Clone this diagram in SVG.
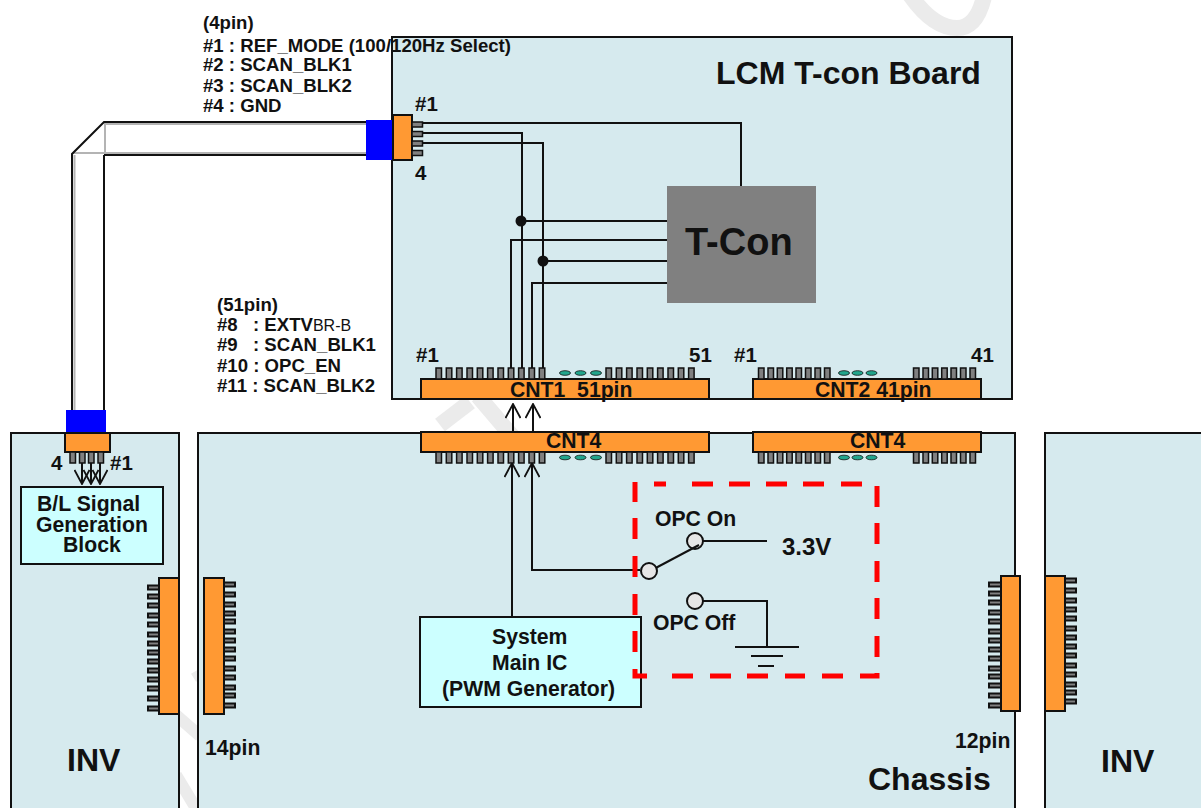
<svg xmlns="http://www.w3.org/2000/svg" width="1201" height="808" viewBox="0 0 1201 808">
<defs>
<style>
text{font-family:"Liberation Sans",Arial,sans-serif;font-weight:700;fill:#111}
.board{fill:#d6eaee;stroke:#111;stroke-width:2}
.org{fill:#ff9933;stroke:#111;stroke-width:2}
.pin{fill:#808080;stroke:#111;stroke-width:1.5}
.sp{fill:#808080;stroke:#111;stroke-width:2}
.oval{fill:#22a58c;stroke:#111;stroke-width:.8}
.w{fill:none;stroke:#111;stroke-width:2}
.g{fill:none;stroke:#b4b4b4;stroke-width:2}
.sw{fill:#e6e6e6;stroke:#111;stroke-width:2}
.blue{fill:#0000ff}
.cy{fill:#ccffff;stroke:#111;stroke-width:2}
.n{font-size:18.6px}.m{font-size:21.2px}.p{font-size:20.5px}.b{font-size:32px}
</style>
<marker id="open" viewBox="0 0 16 16" refX="15" refY="8" markerWidth="16" markerHeight="16" markerUnits="userSpaceOnUse" orient="auto"><path d="M1 0.5L15 8L1 15.5" fill="none" stroke="#111" stroke-width="1.8"/></marker>
<path id="tp" d="M0 0h5.500v11h-5.500z" class="pin"/>
</defs>
<g id="watermark" fill="none" stroke="#ebebeb" stroke-width="16">
<path d="M908 -8Q932 28 957 28Q978 28 985 -8"/>
<path d="M440 425L470 402"/><path d="M478 396L512 436"/>
<path d="M176 715L200 736M176 775L200 815" stroke-width="12"/>
<path d="M194 672L199 680" stroke-width="7"/>
</g>
<g id="board-lcm"><rect class="board" x="392" y="37" width="620" height="362"/><text class="b" x="716" y="84">LCM T-con Board</text></g>
<g id="board-inv-left"><path class="board" d="M11 810V433H179V810"/><text class="b" x="67" y="771">INV</text></g>
<g id="board-chassis"><path class="board" d="M198 810V433H1015V810"/><text class="b" x="868" y="790">Chassis</text></g>
<g id="board-inv-right"><path class="board" d="M1045 810V433H1203V810"/><text class="b" x="1101" y="772">INV</text></g>
<g id="cable">
<path class="g" d="M105 124H366M73 153H366M105 123V153M74.500 155V410"/>
<path class="w" d="M366 122H104L72 154V410M104 155V410M104 155H366"/>
</g>
<g id="tcon"><rect x="667" y="186" width="149" height="117" fill="#808080"/><text x="685" y="255" style="font-size:38px">T-Con</text></g>
<g id="connectors">
<path class="w" d="M423 123H741V186M423 133H522V368M423 143H543V368"/>
<path class="w" d="M521 221H667M511 368V240H667M543 261H667M532 368V283H667"/>
<circle cx="521" cy="221" r="5.500" fill="#111"/><circle cx="543" cy="261" r="5.500" fill="#111"/>
<path class="w" d="M513 432V404" marker-end="url(#open)"/><path class="w" d="M533 432V404" marker-end="url(#open)"/>
<path class="w" d="M512 617V463" marker-end="url(#open)"/><path class="w" d="M640 570H532V463" marker-end="url(#open)"/>
<path class="w" d="M82 463V484" marker-end="url(#open)"/><path class="w" d="M91 463V484" marker-end="url(#open)"/><path class="w" d="M100 463V484" marker-end="url(#open)"/>
<path class="w" d="M695 541H767M703 601H767V647"/>
<path class="w" d="M735 647H799M751 656H783M758 666H774"/>
</g>
<g id="conn-4pin">
<rect class="blue" x="366" y="120" width="26" height="40"/>
<rect class="org" x="393" y="115" width="19" height="45"/>
<rect class="pin" x="412" y="122" width="10.500" height="5"/><rect class="pin" x="412" y="131.500" width="10.500" height="5"/><rect class="pin" x="412" y="141" width="10.500" height="5"/><rect class="pin" x="412" y="150.500" width="10.500" height="5"/>
<text class="p" x="415" y="111">#1</text><text class="p" x="415" y="180">4</text>
</g>
<g id="cnt1">
<rect class="org" x="421" y="379" width="288" height="20"/>
<g id="cnt1-pins">
<use href="#tp" x="436" y="368"/><use href="#tp" x="446.300" y="368"/><use href="#tp" x="456.600" y="368"/><use href="#tp" x="467" y="368"/><use href="#tp" x="477.300" y="368"/><use href="#tp" x="487.600" y="368"/><use href="#tp" x="498" y="368"/><use href="#tp" x="508.300" y="368"/><use href="#tp" x="518.600" y="368"/><use href="#tp" x="529" y="368"/><use href="#tp" x="539.300" y="368"/>
<use href="#tp" x="606" y="368"/><use href="#tp" x="616.300" y="368"/><use href="#tp" x="626.600" y="368"/><use href="#tp" x="637" y="368"/><use href="#tp" x="647.300" y="368"/><use href="#tp" x="657.600" y="368"/><use href="#tp" x="668" y="368"/><use href="#tp" x="678.300" y="368"/><use href="#tp" x="688.600" y="368"/>
</g>
<ellipse class="oval" cx="565" cy="373" rx="5.500" ry="2.300"/><ellipse class="oval" cx="580.500" cy="373" rx="5.500" ry="2.300"/><ellipse class="oval" cx="596" cy="373" rx="5.500" ry="2.300"/>
<text class="m" x="510" y="397">CNT1&#160; 51pin</text>
<text class="p" x="416" y="362">#1</text><text class="p" x="689" y="362">51</text>
</g>
<g id="cnt2">
<rect class="org" x="753" y="379" width="228" height="20"/>
<use href="#tp" x="758.500" y="368"/><use href="#tp" x="768" y="368"/><use href="#tp" x="777.300" y="368"/><use href="#tp" x="786.700" y="368"/><use href="#tp" x="796" y="368"/><use href="#tp" x="805.500" y="368"/><use href="#tp" x="815" y="368"/><use href="#tp" x="824.500" y="368"/>
<use href="#tp" x="913.500" y="368"/><use href="#tp" x="923" y="368"/><use href="#tp" x="932.300" y="368"/><use href="#tp" x="941.700" y="368"/><use href="#tp" x="951" y="368"/><use href="#tp" x="960.500" y="368"/><use href="#tp" x="970" y="368"/>
<ellipse class="oval" cx="844" cy="373" rx="5.500" ry="2.300"/><ellipse class="oval" cx="857.500" cy="373" rx="5.500" ry="2.300"/><ellipse class="oval" cx="871.500" cy="373" rx="5.500" ry="2.300"/>
<text class="m" x="815" y="397">CNT2 41pin</text>
<text class="p" x="734" y="362">#1</text><text class="p" x="971" y="362">41</text>
</g>
<g id="cnt4-a">
<rect class="org" x="421" y="432" width="288" height="20"/>
<use href="#tp" x="436" y="452"/><use href="#tp" x="446.300" y="452"/><use href="#tp" x="456.600" y="452"/><use href="#tp" x="467" y="452"/><use href="#tp" x="477.300" y="452"/><use href="#tp" x="487.600" y="452"/><use href="#tp" x="498" y="452"/><use href="#tp" x="508.300" y="452"/><use href="#tp" x="518.600" y="452"/><use href="#tp" x="529" y="452"/><use href="#tp" x="539.300" y="452"/>
<use href="#tp" x="606" y="452"/><use href="#tp" x="616.300" y="452"/><use href="#tp" x="626.600" y="452"/><use href="#tp" x="637" y="452"/><use href="#tp" x="647.300" y="452"/><use href="#tp" x="657.600" y="452"/><use href="#tp" x="668" y="452"/><use href="#tp" x="678.300" y="452"/><use href="#tp" x="688.600" y="452"/>
<ellipse class="oval" cx="565" cy="457.500" rx="5.500" ry="2.300"/><ellipse class="oval" cx="580.500" cy="457.500" rx="5.500" ry="2.300"/><ellipse class="oval" cx="596" cy="457.500" rx="5.500" ry="2.300"/>
<text class="m" x="546" y="448">CNT4</text>
</g>
<g id="cnt4-b">
<rect class="org" x="753" y="432" width="228" height="20"/>
<use href="#tp" x="758.500" y="452"/><use href="#tp" x="768" y="452"/><use href="#tp" x="777.300" y="452"/><use href="#tp" x="786.700" y="452"/><use href="#tp" x="796" y="452"/><use href="#tp" x="805.500" y="452"/><use href="#tp" x="815" y="452"/><use href="#tp" x="824.500" y="452"/>
<use href="#tp" x="913.500" y="452"/><use href="#tp" x="923" y="452"/><use href="#tp" x="932.300" y="452"/><use href="#tp" x="941.700" y="452"/><use href="#tp" x="951" y="452"/><use href="#tp" x="960.500" y="452"/><use href="#tp" x="970" y="452"/>
<ellipse class="oval" cx="844" cy="457.500" rx="5.500" ry="2.300"/><ellipse class="oval" cx="857.500" cy="457.500" rx="5.500" ry="2.300"/><ellipse class="oval" cx="871.500" cy="457.500" rx="5.500" ry="2.300"/>
<text class="m" x="850" y="448">CNT4</text>
</g>
<g id="conn-bl">
<rect class="blue" x="66" y="410" width="40" height="23"/>
<rect class="org" x="65" y="433" width="45" height="19"/>
<use href="#tp" x="70" y="452"/><use href="#tp" x="79.500" y="452"/><use href="#tp" x="88.500" y="452"/><use href="#tp" x="98" y="452"/>
<text class="p" x="51" y="470">4</text><text class="p" x="110" y="470">#1</text>
</g>
<g id="bl-block"><rect class="cy" x="21" y="487" width="142" height="77"/>
<text class="m" x="37" y="511">B/L Signal</text><text class="m" x="36" y="532">Generation</text><text class="m" x="63" y="552">Block</text></g>
<g id="main-ic"><rect class="cy" x="420" y="617" width="221" height="90"/>
<text class="m" x="492" y="644">System</text><text class="m" x="492" y="670">Main IC</text><text class="m" x="442" y="696">(PWM Generator)</text></g>
<g id="opc-switch">
<circle class="sw" cx="695" cy="541" r="8"/><circle class="sw" cx="695" cy="601" r="8"/>
<path class="w" d="M650 571L699 545" stroke-width="2.500"/>
<circle class="sw" cx="649" cy="571" r="8"/>
<text class="m" x="655" y="526">OPC On</text><text class="m" x="653" y="630">OPC Off</text><text x="782" y="555" style="font-size:24px">3.3V</text>
</g>
<path id="opc-dash" fill="none" stroke="#ff0000" stroke-width="5" d="M654 484H666M692 484H713M729 484H750M766 484H787M803 484H824M841 484H862M877 486V507M877 523V544M877 561V582M877 598V619M877 636V657M877 673V676H860M843 676H822M805 676H785M768 676H747M731 676H710M693 676H672M647 676H635V669M635 652V631M635 615V594M635 577V556M635 539V518M635 502V482"/>
<g id="side-left">
<rect class="org" x="159" y="578" width="20" height="136"/>
<rect class="sp" x="148" y="585.500" width="11" height="4"/><rect class="sp" x="148" y="594.500" width="11" height="4"/><rect class="sp" x="148" y="603.500" width="11" height="4"/><rect class="sp" x="148" y="613.500" width="11" height="4"/><rect class="sp" x="148" y="622.500" width="11" height="4"/><rect class="sp" x="148" y="632.500" width="11" height="4"/><rect class="sp" x="148" y="641.500" width="11" height="4"/><rect class="sp" x="148" y="650.500" width="11" height="4"/><rect class="sp" x="148" y="659.500" width="11" height="4"/><rect class="sp" x="148" y="668.500" width="11" height="4"/><rect class="sp" x="148" y="677.500" width="11" height="4"/><rect class="sp" x="148" y="686.500" width="11" height="4"/><rect class="sp" x="148" y="696.500" width="11" height="4"/><rect class="sp" x="148" y="706.500" width="11" height="4"/>
</g>
<g id="side-14pin">
<rect class="org" x="204" y="578" width="20" height="136"/>
<rect class="sp" x="224" y="582.500" width="11" height="4"/><rect class="sp" x="224" y="592.500" width="11" height="4"/><rect class="sp" x="224" y="602.500" width="11" height="4"/><rect class="sp" x="224" y="611.500" width="11" height="4"/><rect class="sp" x="224" y="619.500" width="11" height="4"/><rect class="sp" x="224" y="629.500" width="11" height="4"/><rect class="sp" x="224" y="638.500" width="11" height="4"/><rect class="sp" x="224" y="647.500" width="11" height="4"/><rect class="sp" x="224" y="656.500" width="11" height="4"/><rect class="sp" x="224" y="666.500" width="11" height="4"/><rect class="sp" x="224" y="675.500" width="11" height="4"/><rect class="sp" x="224" y="685.500" width="11" height="4"/><rect class="sp" x="224" y="693.500" width="11" height="4"/><rect class="sp" x="224" y="703.500" width="11" height="4"/>
<text class="m" x="205" y="755">14pin</text>
</g>
<g id="side-12pin">
<rect class="org" x="1001" y="576" width="19" height="135"/>
<rect class="sp" x="989" y="582.500" width="12" height="4"/><rect class="sp" x="989" y="591.500" width="12" height="4"/><rect class="sp" x="989" y="600.500" width="12" height="4"/><rect class="sp" x="989" y="610.500" width="12" height="4"/><rect class="sp" x="989" y="619.500" width="12" height="4"/><rect class="sp" x="989" y="629.500" width="12" height="4"/><rect class="sp" x="989" y="638.500" width="12" height="4"/><rect class="sp" x="989" y="647.500" width="12" height="4"/><rect class="sp" x="989" y="656.500" width="12" height="4"/><rect class="sp" x="989" y="666.500" width="12" height="4"/><rect class="sp" x="989" y="674.500" width="12" height="4"/><rect class="sp" x="989" y="683.500" width="12" height="4"/><rect class="sp" x="989" y="693.500" width="12" height="4"/><rect class="sp" x="989" y="703.500" width="12" height="4"/>
<text class="m" x="955" y="748">12pin</text>
</g>
<g id="side-right">
<rect class="org" x="1045" y="576" width="20" height="135"/>
<rect class="sp" x="1065" y="578.500" width="11" height="4"/><rect class="sp" x="1065" y="588.500" width="11" height="4"/><rect class="sp" x="1065" y="598.500" width="11" height="4"/><rect class="sp" x="1065" y="607.500" width="11" height="4"/><rect class="sp" x="1065" y="616.500" width="11" height="4"/><rect class="sp" x="1065" y="626.500" width="11" height="4"/><rect class="sp" x="1065" y="635.500" width="11" height="4"/><rect class="sp" x="1065" y="644.500" width="11" height="4"/><rect class="sp" x="1065" y="653.500" width="11" height="4"/><rect class="sp" x="1065" y="663.500" width="11" height="4"/><rect class="sp" x="1065" y="672.500" width="11" height="4"/><rect class="sp" x="1065" y="682.500" width="11" height="4"/><rect class="sp" x="1065" y="690.500" width="11" height="4"/><rect class="sp" x="1065" y="699.500" width="11" height="4"/>
</g>
<g id="notes-4pin">
<text class="n" x="203" y="29">(4pin)</text>
<text class="n" x="203" y="52">#1 : REF_MODE (100/120Hz Select)</text>
<text class="n" x="203" y="71">#2 : SCAN_BLK1</text>
<text class="n" x="203" y="92">#3 : SCAN_BLK2</text>
<text class="n" x="203" y="112">#4 : GND</text>
</g>
<g id="notes-51pin">
<text class="n" x="217" y="311">(51pin)</text>
<text class="n" x="217" y="331">#8</text><text class="n" x="253" y="331">: EXTV<tspan style="font-weight:400;font-size:16px">BR-B</tspan></text>
<text class="n" x="217" y="351">#9</text><text class="n" x="253" y="351">: SCAN_BLK1</text>
<text class="n" x="217" y="372">#10 : OPC_EN</text>
<text class="n" x="217" y="392">#11 : SCAN_BLK2</text>
</g>
</svg>
